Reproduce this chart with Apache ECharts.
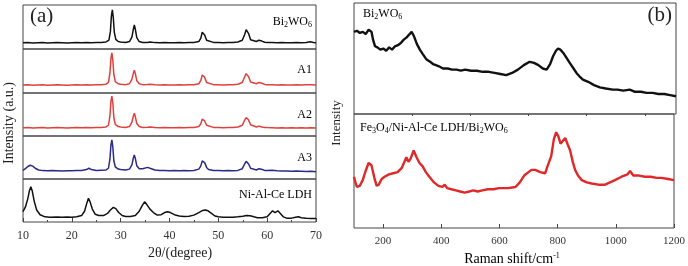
<!DOCTYPE html>
<html>
<head>
<meta charset="utf-8">
<script src="https://cdn.jsdelivr.net/npm/echarts@6/dist/echarts.min.js"></script>
<style>
html,body{margin:0;padding:0;background:#fff;}
#chart{width:688px;height:266px;}
</style>
</head>
<body>
<div id="chart"></div>
<script>
// XRD (a): [2theta, relative intensity]
var xrdBi2WO6 = [[10,14],[11,14.5],[12,13.5],[13,14],[14,14.5],[15,13.5],[16,14],[17,14.5],[18,14],[19,13.5],[20,14],[21,14.5],[22,14],[23,15],[24,14],[25,14.5],[26,15],[27,16],[27.6,20],[27.9,40],[28.1,75],[28.3,89],[28.5,70],[28.7,38],[29,22],[29.5,17],[30,16],[31,15],[31.8,17],[32.3,27],[32.6,45],[32.8,55],[33,45],[33.3,26],[33.8,17],[34.5,15],[35.5,15],[36,16],[37,14.5],[38,14],[39,14.5],[40,14],[41,14],[42,14.5],[43,14],[44,14.5],[45,15],[46,17],[46.4,24],[46.7,38],[46.9,41],[47.2,32],[47.6,20],[48,16],[49,15],[50,14.5],[51,14],[52,14.5],[53,15],[54,16],[54.9,20],[55.4,33],[55.7,44],[55.9,45],[56.2,35],[56.6,21],[57,17],[57.8,17],[58.3,20],[58.6,21],[58.9,18],[59.5,15.5],[60,15],[61,14.5],[62,14],[63,14.5],[64,14],[65,14],[66,14.5],[67,14],[68,15],[68.8,16.5],[69.5,15],[70,14]];
var xrdA1 = [[10,18],[11,18.5],[12,17.5],[13,18],[14,18.5],[15,17.5],[16,18],[17,18.5],[18,18],[19,17.5],[20,18],[21,18.5],[22,18],[23,19],[24,18],[25,18.5],[26,19],[27,20],[27.5,24],[27.8,45],[28,78],[28.2,91],[28.4,74],[28.6,42],[28.9,26],[29.5,21],[30,20],[31,19],[31.8,21],[32.3,31],[32.6,45],[32.8,52],[33,44],[33.3,28],[33.8,21],[34.5,19],[35.5,19.5],[36,20],[37,18.5],[38,18],[39,18.5],[40,18],[41,18],[42,18.5],[43,18],[44,18.5],[45,19],[46,21],[46.4,28],[46.7,41],[46.9,45],[47.2,36],[47.6,24],[48,20],[49,19],[50,18.5],[51,18],[52,18.5],[53,19],[54,20],[54.9,24],[55.4,37],[55.7,44],[55.9,45],[56.2,37],[56.6,25],[57,21],[57.8,21],[58.3,24],[58.6,25],[58.9,22],[59.5,19.5],[60,19],[61,18.5],[62,18],[63,18.5],[64,18],[65,18],[66,18.5],[67,18],[68,18.5],[69,19],[70,18]];
var xrdA2 = [[10,19],[11,19.5],[12,18.5],[13,19],[14,19.5],[15,18.5],[16,19],[17,19.5],[18,19],[19,18.5],[20,19],[21,19.5],[22,19],[23,20],[24,19],[25,19.5],[26,20],[27,21],[27.5,25],[27.8,46],[28,80],[28.2,93],[28.4,76],[28.6,43],[28.9,27],[29.5,22],[30,21],[31,20],[31.8,22],[32.3,32],[32.6,46],[32.8,53],[33,45],[33.3,29],[33.8,22],[34.5,20],[35.5,20.5],[36,21],[37,19.5],[38,19],[39,19.5],[40,19],[41,19],[42,19.5],[43,19],[44,19.5],[45,20],[46,22],[46.4,28],[46.7,39],[46.9,42],[47.2,35],[47.6,25],[48,21],[49,20],[50,19.5],[51,19],[52,19.5],[53,20],[54,21],[54.9,25],[55.4,37],[55.7,43],[55.9,44],[56.2,37],[56.6,26],[57,22],[57.8,21],[58.3,23],[58.6,23],[58.9,21],[59.5,20],[60,19.5],[61,19],[62,18.5],[63,19],[64,18.5],[65,19],[66,18.5],[67,19],[68,18.5],[69,19],[70,18.5]];
var xrdA3 = [[10,20],[10.5,24],[11,29],[11.5,32],[12,30],[12.5,25],[13.2,21],[14,19.5],[15,19],[16,19.5],[17,19],[18,18.5],[19,19],[20,19],[21,19.5],[22,20],[23,22],[23.5,25],[24,22],[25,20],[26,20.5],[27,21],[27.5,25],[27.8,46],[28,78],[28.2,91],[28.4,74],[28.6,43],[28.9,28],[29.5,23],[30,22],[31,21],[31.8,23],[32.3,33],[32.6,49],[32.8,56],[33,48],[33.3,31],[33.8,24],[34.5,24],[35.5,27],[36.3,24],[37,21],[38,20],[39,19.5],[40,19],[41,19.5],[42,19],[43,19.5],[44,19],[45,20],[46,23],[46.4,30],[46.7,42],[46.9,46],[47.2,38],[47.6,27],[48,22],[49,20],[50,19.5],[51,19],[52,19.5],[53,19],[54,20],[54.9,24],[55.4,35],[55.7,41],[55.9,42],[56.2,35],[56.6,25],[57,21],[57.8,21],[58.3,24],[58.6,25],[59,22],[59.5,20],[60,19.5],[61,20.5],[62,19],[63,18.5],[64,18.5],[65,18],[66,18.5],[67,18],[68,17.5],[69,18],[70,17]];
var xrdLDH = [[10,24],[10.5,35],[11,55],[11.3,72],[11.6,82],[11.9,72],[12.3,48],[12.8,28],[13.5,17],[14.5,12],[15.5,11],[17,11.5],[18,11],[19,11.5],[20,11],[21,12],[22,15],[22.6,25],[23.1,45],[23.4,55],[23.7,48],[24.2,30],[24.8,18],[25.5,15],[26.5,15],[27.3,20],[27.9,28],[28.5,34],[29,31],[29.6,22],[30.3,15],[31,13],[32,13],[33,15],[33.8,25],[34.4,38],[34.9,47],[35.4,40],[36,30],[36.7,22],[37.5,16],[38.3,17],[39,22],[39.6,24],[40.2,22],[41,17],[42,14],[43,13],[44,13.5],[45,16],[46,22],[46.8,27],[47.3,28],[47.9,26],[48.6,20],[49.3,14],[50,12],[51,11],[52,11],[53,11],[54,12],[55,13.5],[55.8,15],[56.5,14.5],[57.3,12],[58,10],[59,10],[60,12],[60.6,20],[61.1,26],[61.6,22],[62.2,26],[62.7,20],[63.3,12],[64,9],[65,9],[65.8,11],[66.4,12],[67,10],[68,8.5],[69,8],[70,8]];
var xrdNames = ['{n|Bi}{s|2}{n|WO}{s|6}', '{n|A1}', '{n|A2}', '{n|A3}', '{n|Ni-Al-Ce LDH}'];

// Raman (b): [shift, relative intensity]
var ramanBi2WO6 = [[100,74],[110,75],[120,73],[130,74],[140,72],[150,76],[155,77],[160,74],[165,67],[172,61],[180,60],[190,58],[200,59],[210,57],[220,60],[230,58],[240,61],[250,62],[260,64],[270,67],[280,69],[290,72],[297,74],[305,70],[315,63],[325,58],[335,54],[348,49],[360,47],[370,45],[380,44],[390,43],[404,41],[420,41],[435,40],[450,40],[465,39],[480,40],[500,39],[520,39],[540,38],[560,38],[580,37],[600,36],[620,35],[640,37],[660,40],[680,44],[700,47],[715,46],[730,44],[745,41],[758,40],[770,45],[780,52],[790,57],[797,59],[805,58],[815,55],[825,51],[837,46],[850,41],[860,37],[870,34],[882,31],[900,29],[920,26],[940,24],[960,23],[984,22],[1000,22],[1020,21],[1042,22],[1060,20],[1080,20],[1100,19],[1120,19],[1140,18],[1160,18],[1180,17],[1200,16]];
var ramanComposite = [[100,45],[105,40],[110,36],[120,37],[130,42],[140,50],[150,57],[155,58],[160,55],[170,44],[178,37],[185,38],[195,43],[205,45],[220,47],[235,48],[250,49],[265,53],[280,62],[287,58],[295,61],[305,68],[315,62],[325,57],[336,54],[347,49],[359,45],[375,40],[390,37],[404,36],[412,38],[420,35],[435,34],[450,33],[465,32],[480,31],[496,32],[510,33],[525,32],[541,33],[560,34],[580,34],[598,35],[615,35],[630,35],[655,36],[670,40],[685,46],[700,49],[710,51],[723,51],[740,49],[757,48],[765,54],[778,63],[787,78],[795,84],[803,80],[810,74],[815,74],[826,79],[835,73],[843,68],[852,58],[860,51],[870,46],[883,42],[900,40],[917,39],[940,38],[963,38],[980,40],[997,42],[1020,45],[1040,47],[1049,50],[1060,46],[1080,46],[1100,45],[1120,45],[1140,44],[1157,44],[1180,43],[1200,42]];
var ramanMajor = [200, 400, 600, 800, 1000, 1200];
var ramanMinor = [300, 500, 700, 900, 1100];

var chart = echarts.init(document.getElementById('chart'));
var serif = '"Liberation Serif", "DejaVu Serif", serif';
var subRich = {
	n: { fontSize: 12, fontFamily: serif, color: '#333', verticalAlign: 'bottom' },
	s: { fontSize: 8, fontFamily: serif, color: '#333', verticalAlign: 'bottom', padding: [0, 0, -1, 0] }
};

var grids = [], xAxes = [], yAxes = [], series = [];

//XRD grids
var xrdTops = [5, 49, 93, 136, 179];
var xrdHeights = [44, 44, 43, 43, 43];
var xrdData = [xrdBi2WO6, xrdA1, xrdA2, xrdA3, xrdLDH];
var xrdColors = ['#111', '#e0403c', '#e0403c', '#2a2a88', '#111'];
for (var i = 0; i < 5; i++) {
	var last = i == 4;
	grids.push({ left: 23, width: 293, top: xrdTops[i], height: xrdHeights[i], show: true, borderColor: '#444', borderWidth: 1 });
	xAxes.push({
		type: 'value', gridIndex: i, min: 10, max: 70, interval: 10,
		axisLine: { show: false },
		axisTick: { show: last, inside: true, length: 4, lineStyle: { color: '#444' } },
		minorTick: { show: last, splitNumber: 2, length: 2, lineStyle: { color: '#444' } },
		axisLabel: { show: last, fontFamily: serif, fontSize: 12, color: '#333', margin: 8 },
		splitLine: { show: false }
	});
	yAxes.push({ type: 'value', gridIndex: i, min: 0, max: 100, show: false });
	series.push({
		type: 'line', xAxisIndex: i, yAxisIndex: i, data: xrdData[i], showSymbol: false,
		lineStyle: { color: xrdColors[i], width: 1.5 }, silent: true
	});
}

//Raman grids
var ramanTops = [3, 114];
var ramanHeights = [111, 114];
var ramanData = [ramanBi2WO6, ramanComposite];
var ramanColors = ['#111', '#e02828'];
for (var j = 0; j < 2; j++) {
	var g = 5 + j, bottom = j == 1;
	grids.push({ left: 354, width: 322, top: ramanTops[j], height: ramanHeights[j], show: true, borderColor: '#444', borderWidth: 1 });
	xAxes.push({
		type: 'value', gridIndex: g, min: 100, max: 1200,
		axisLine: { show: false },
		axisTick: { show: bottom, inside: true, length: 4, customValues: ramanMajor, lineStyle: { color: '#444' } },
		axisLabel: { show: bottom, customValues: ramanMajor, formatter: function (v) { return String(v); },
			fontFamily: serif, fontSize: 11, color: '#333', margin: 8 },
		splitLine: { show: false }
	});
	yAxes.push({ type: 'value', gridIndex: g, min: 0, max: 100, show: false });
	series.push({
		type: 'line', xAxisIndex: xAxes.length - 1, yAxisIndex: g, data: ramanData[j], showSymbol: false,
		lineStyle: { color: ramanColors[j], width: 2.4 }, silent: true
	});
}
// short minor ticks on Raman axis
xAxes.push({
	type: 'value', gridIndex: 6, min: 100, max: 1200,
	axisLine: { show: false },
	axisTick: { show: true, inside: true, length: 2, customValues: ramanMinor, lineStyle: { color: '#444' } },
	axisLabel: { show: false }, splitLine: { show: false }
});

//labels
var graphics = [
	{ type: 'text', left: 30, top: 6, style: { text: '(a)', font: '21px ' + serif, fill: '#222' } },
	{ type: 'text', right: 16, top: 5, style: { text: '(b)', font: '21px ' + serif, fill: '#222' } },
	{ type: 'text', x: 180, y: 253, style: { text: '2θ/(degree)', font: '14px ' + serif, fill: '#222', align: 'center', verticalAlign: 'middle' } },
	{ type: 'text', x: 512, y: 259, style: { text: '{m|Raman shift/cm}{sup|-1}', align: 'center', verticalAlign: 'middle',
		rich: { m: { fontSize: 14, fontFamily: serif, color: '#222', verticalAlign: 'bottom' },
			sup: { fontSize: 8, fontFamily: serif, color: '#222', verticalAlign: 'top' } } } },
	{ type: 'text', x: 9, y: 123, rotation: Math.PI / 2, style: { text: 'Intensity (a.u.)', font: '14px ' + serif, fill: '#222', align: 'center', verticalAlign: 'middle' } },
	{ type: 'text', x: 337, y: 123, rotation: Math.PI / 2, style: { text: 'Intensity', font: '13px ' + serif, fill: '#222', align: 'center', verticalAlign: 'middle' } },
	{ type: 'text', x: 363, y: 14, style: { text: '{n|Bi}{s|2}{n|WO}{s|6}', rich: subRich, align: 'left', verticalAlign: 'middle' } },
	{ type: 'text', x: 360, y: 128, style: { text: '{n|Fe}{s|3}{n|O}{s|4}{n|/Ni-Al-Ce LDH/Bi}{s|2}{n|WO}{s|6}', rich: subRich, align: 'left', verticalAlign: 'middle' } }
];
var xrdLabelY = [22, 70, 115, 158, 195];
for (var k = 0; k < 5; k++) {
	graphics.push({ type: 'text', x: 312, y: xrdLabelY[k], style: { text: xrdNames[k], rich: subRich, align: 'right', verticalAlign: 'middle' } });
}

chart.setOption({
	animation: false,
	grid: grids,
	xAxis: xAxes,
	yAxis: yAxes,
	series: series,
	graphic: graphics
});
</script>
</body>
</html>
